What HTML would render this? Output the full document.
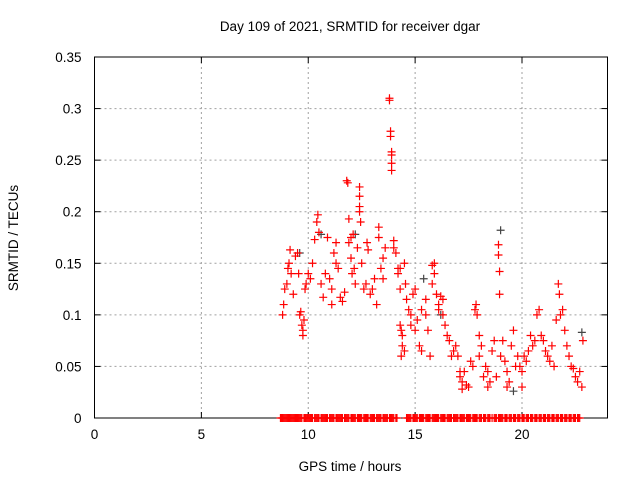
<!DOCTYPE html>
<html><head><meta charset="utf-8"><style>
body{margin:0;background:#fff;}
svg{display:block;font-family:"Liberation Sans",Arial,sans-serif;}
</style></head><body>
<svg id="chart" width="640" height="480">
<rect width="640" height="480" fill="#fff"/>
<g id="grid"></g>
<g id="axes"></g>
<g id="marks"></g>
<text x="350" y="31" font-size="13.5" text-anchor="middle">Day 109 of 2021, SRMTID for receiver dgar</text>
<text x="350" y="471" font-size="13.5" text-anchor="middle">GPS time / hours</text>
<text x="18" y="238" font-size="13.5" text-anchor="middle" transform="rotate(-90 18 238)">SRMTID / TECUs</text>
</svg>
<script>
const xTicks=[0,5,10,15,20];
const yTicks=[0,0.05,0.1,0.15,0.2,0.25,0.3,0.35];
const yTickLabels=["0","0.05","0.1","0.15","0.2","0.25","0.3","0.35"];
const redT=[8.8,8.85,8.9,9.0,9.05,9.1,9.15,9.2,9.3,9.4,9.5,9.55,9.6,9.65,9.7,9.75,9.75,9.8,9.85,9.9,10.0,10.1,10.2,10.3,10.4,10.45,10.5,10.6,10.7,10.8,10.9,11.0,11.1,11.1,11.2,11.3,11.3,11.4,11.5,11.6,11.7,11.8,11.85,11.9,11.9,12.0,12.0,12.05,12.1,12.15,12.2,12.3,12.4,12.4,12.4,12.4,12.45,12.5,12.6,12.7,12.75,12.8,12.9,13.0,13.1,13.2,13.3,13.3,13.4,13.5,13.5,13.6,13.8,13.8,13.85,13.85,13.9,13.9,13.9,13.9,14.0,14.0,14.1,14.2,14.2,14.3,14.3,14.3,14.35,14.4,14.4,14.35,14.5,14.5,14.55,14.6,14.7,14.8,14.8,14.9,15.0,15.0,15.1,15.2,15.3,15.3,15.5,15.5,15.6,15.7,15.8,15.8,15.9,15.9,16.0,16.1,16.1,16.2,16.3,16.3,16.4,16.5,16.6,16.7,16.8,16.9,17.0,17.1,17.1,17.2,17.2,17.3,17.4,17.5,17.6,17.7,17.8,17.85,17.9,18.0,18.0,18.1,18.2,18.3,18.4,18.5,18.6,18.7,18.8,18.9,18.9,18.95,18.95,19.0,19.1,19.2,19.3,19.4,19.5,19.6,19.7,19.8,19.9,20.0,20.1,20.2,20.3,20.4,20.5,20.6,20.7,20.8,20.9,21.0,21.1,21.2,21.3,21.4,21.5,21.6,21.7,21.75,21.8,21.9,22.0,22.1,22.2,22.3,22.4,22.5,22.6,22.7,22.8,22.85,20.0,19.3,18.4];
const redV=[0.10,0.11,0.125,0.13,0.145,0.15,0.163,0.14,0.12,0.157,0.16,0.14,0.10,0.103,0.09,0.085,0.08,0.095,0.125,0.13,0.14,0.135,0.15,0.173,0.19,0.197,0.18,0.13,0.117,0.14,0.175,0.135,0.11,0.125,0.16,0.17,0.15,0.145,0.117,0.113,0.122,0.23,0.228,0.193,0.17,0.175,0.155,0.14,0.178,0.145,0.13,0.165,0.224,0.215,0.205,0.2,0.19,0.15,0.125,0.13,0.17,0.163,0.12,0.125,0.135,0.11,0.185,0.175,0.145,0.155,0.135,0.165,0.31,0.308,0.278,0.273,0.258,0.255,0.247,0.24,0.172,0.165,0.16,0.145,0.14,0.145,0.125,0.09,0.085,0.08,0.07,0.06,0.065,0.15,0.13,0.115,0.105,0.09,0.1,0.12,0.125,0.085,0.095,0.07,0.105,0.065,0.1,0.115,0.085,0.06,0.13,0.148,0.15,0.14,0.12,0.11,0.105,0.118,0.115,0.1,0.09,0.08,0.075,0.06,0.065,0.07,0.06,0.045,0.04,0.035,0.028,0.045,0.032,0.03,0.055,0.05,0.105,0.11,0.1,0.08,0.06,0.07,0.04,0.05,0.045,0.035,0.065,0.075,0.04,0.168,0.158,0.142,0.12,0.06,0.075,0.055,0.045,0.035,0.07,0.085,0.05,0.06,0.05,0.045,0.06,0.055,0.065,0.08,0.07,0.075,0.1,0.105,0.08,0.075,0.065,0.06,0.055,0.07,0.05,0.095,0.13,0.12,0.1,0.105,0.085,0.07,0.06,0.05,0.048,0.04,0.035,0.045,0.03,0.075,0.03,0.03,0.03];
const greyT=[9.6,10.6,15.4,19.0,19.6,22.8,16.2,12.2];
const greyV=[0.16,0.178,0.135,0.182,0.026,0.083,0.10,0.178];
const zeroT=[8.7,8.75,8.8,8.85,8.9,8.95,9.0,9.05,9.1,9.15,9.2,9.25,9.3,9.35,9.4,9.45,9.5,9.55,9.6,9.65,9.7,9.8,9.85,9.9,9.95,10.0,10.05,10.1,10.15,10.2,10.3,10.35,10.4,10.45,10.5,10.6,10.65,10.7,10.75,10.8,10.85,10.9,11.0,11.05,11.1,11.15,11.2,11.3,11.35,11.4,11.45,11.5,11.55,11.6,11.7,11.75,11.8,11.85,11.9,12.0,12.05,12.1,12.15,12.2,12.3,12.35,12.4,12.45,12.5,12.6,12.65,12.7,12.75,12.8,12.9,12.95,13.0,13.05,13.1,13.2,13.25,13.3,13.35,13.4,13.5,13.55,13.6,13.65,13.7,13.8,13.85,13.9,13.95,14.0,14.1,14.15,14.6,14.65,14.7,14.75,14.8,14.9,14.95,15.0,15.05,15.1,15.2,15.25,15.3,15.35,15.4,15.5,15.55,15.6,15.65,15.7,15.8,15.85,15.9,15.95,16.0,16.05,16.1,16.2,16.25,16.3,16.35,16.4,16.5,16.55,16.6,16.65,16.7,16.8,16.85,16.9,16.95,17.0,17.1,17.15,17.2,17.25,17.3,17.4,17.45,17.5,17.55,17.6,17.7,17.75,17.8,17.85,17.9,18.0,18.05,18.1,18.2,18.25,18.3,18.4,18.45,18.5,18.6,18.7,18.75,18.8,18.9,18.95,19.0,19.05,19.1,19.2,19.25,19.3,19.4,19.45,19.5,19.6,19.65,19.7,19.8,19.85,19.9,20.0,20.05,20.1,20.2,20.25,20.3,20.4,20.45,20.5,20.6,20.65,20.7,20.8,20.85,20.9,21.0,21.05,21.1,21.2,21.25,21.3,21.4,21.45,21.5,21.6,21.65,21.7,21.8,21.85,21.9,22.0,22.05,22.1,22.2,22.25,22.3,22.4,22.45,22.5,22.6,22.65,22.7];
const L=94.5,R=607.5,T=57,B=418,XMAX=24,YMAX=0.35;
const NS="http://www.w3.org/2000/svg";
function sx(v){return L+(R-L)*v/XMAX;}
function sy(v){return B-(B-T)*v/YMAX;}
function mk(tag,attrs,parent){const e=document.createElementNS(NS,tag);for(const k in attrs)e.setAttribute(k,attrs[k]);parent.appendChild(e);return e;}
const grid=document.getElementById('grid'),axes=document.getElementById('axes'),marks=document.getElementById('marks');
xTicks.forEach((t,i)=>{
  const x=sx(t);
  if(t>0){const g=mk('line',{x1:x,x2:x,y1:T,y2:B,stroke:'#a0a0a0','stroke-dasharray':'2,3'},grid);
  
  }
  mk('line',{x1:x,x2:x,y1:B,y2:B-6,stroke:'#000'},axes);
  mk('line',{x1:x,x2:x,y1:T,y2:T+6,stroke:'#000'},axes);
  const tx=mk('text',{x:x,y:B+21,'font-size':13.5,'text-anchor':'middle'},axes);
  tx.textContent=String(t);
  
  
});
yTicks.forEach((t,i)=>{
  const y=sy(t);
  if(t>0&&t<YMAX){const g=mk('line',{x1:L,x2:R,y1:y,y2:y,stroke:'#a0a0a0','stroke-dasharray':'2,3'},grid);
  
  }
  mk('line',{x1:L,x2:L+6,y1:y,y2:y,stroke:'#000'},axes);
  mk('line',{x1:R,x2:R-6,y1:y,y2:y,stroke:'#000'},axes);
  const tx=mk('text',{x:L-13,y:y+5,'font-size':13.5,'text-anchor':'end'},axes);
  tx.textContent=yTickLabels[i];
  
  
});
const fr=mk('rect',{x:L,y:T,width:R-L,height:B-T,fill:'none',stroke:'#000'},axes);


function plus(x,y,c){
  const p=mk('path',{d:`M${x-4},${y}h8M${x},${y-4}v8`,stroke:c,'stroke-width':1.2,fill:'none'},marks);
  
  
}
greyT.forEach((t,i)=>plus(sx(t),sy(greyV[i]),'#444'));
redT.forEach((t,i)=>plus(sx(t),sy(redV[i]),'#f00'));
zeroT.forEach(t=>plus(sx(t),sy(0),'#f00'));
</script>
</body></html>
